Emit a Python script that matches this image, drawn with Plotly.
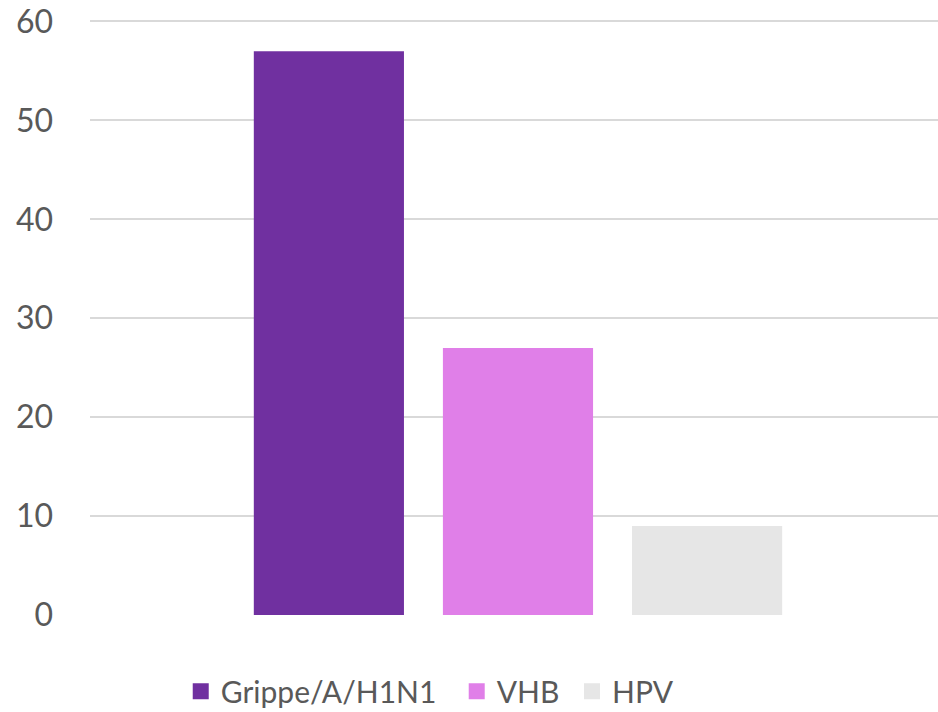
import plotly.graph_objects as go

categories = ["Total"]
series_names = ["Grippe/A/H1N1", "VHB", "HPV"]
series_values = [57, 27, 9]
series_colors = ["#7030A0", "#E07FE8", "#E6E6E6"]
y_ticks = [0, 10, 20, 30, 40, 50, 60]

# trailing non-breaking spaces only widen the spacing between legend entries
legend_pad = ["\u00a0\u00a0", "\u00a0", ""]

fig = go.Figure()
for name, val, col in zip(series_names, series_values, series_colors):
    fig.add_trace(go.Bar(x=categories, y=[val], name=name, marker_color=col,
                         marker_line_width=0, showlegend=False))
for name, col, pad in zip(series_names, series_colors, legend_pad):
    fig.add_trace(go.Scatter(x=[None], y=[None], name=name + pad, mode="markers",
                             marker=dict(symbol="square", size=16, color=col),
                             showlegend=True, hoverinfo="skip"))

fig.update_layout(
    width=938, height=712,
    margin=dict(l=90, r=0, t=20, b=97, autoexpand=False),
    paper_bgcolor="white", plot_bgcolor="white",
    barmode="group", bargap=0.331, bargroupgap=0.206,
    font=dict(family="Lato", size=30, color="#595959"),
    showlegend=True,
    legend=dict(orientation="h", x=0.107, xanchor="left", y=-0.128, yanchor="middle",
                font=dict(family="Lato", size=30, color="#595959"),
                itemsizing="trace", bgcolor="rgba(0,0,0,0)"),
)
fig.update_xaxes(type="category", range=[-0.5047, 0.4953], showticklabels=False,
                 showgrid=False, zeroline=False, showline=False, ticks="",
                 automargin=False)
fig.update_yaxes(range=[0, 60.15], tickvals=y_ticks, showgrid=True, gridcolor="#D9D9D9",
                 gridwidth=2, zeroline=False, showline=False, ticks="",
                 ticklabelstandoff=36, automargin=False,
                 tickfont=dict(family="Lato", size=32, color="#595959"))

fig.write_html("out.html", config={"displayModeBar": False},
               post_script="document.body.style.margin='0';")
